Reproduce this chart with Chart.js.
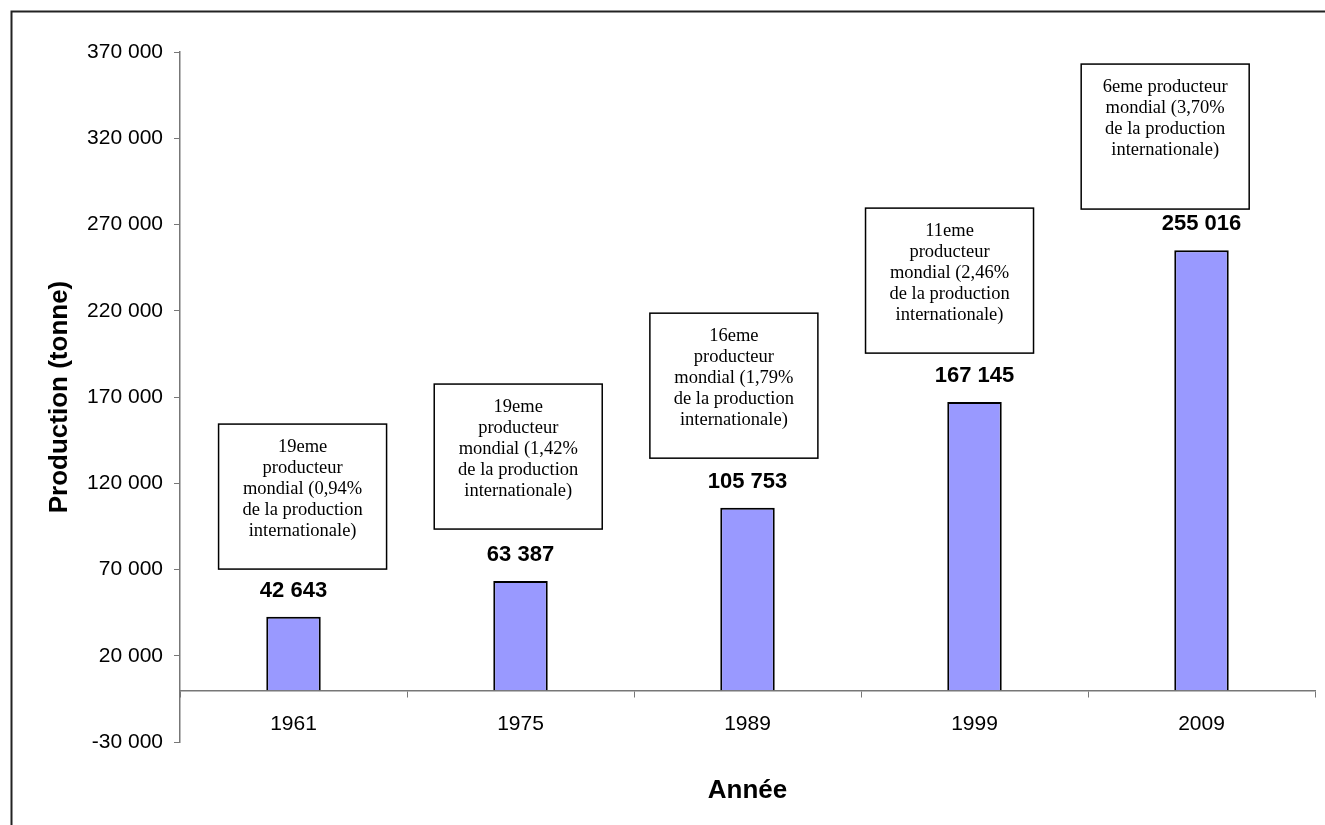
<!DOCTYPE html>
<html>
<head>
<meta charset="utf-8">
<title>Production (tonne)</title>
<script src="https://cdn.jsdelivr.net/npm/chart.js@4/dist/chart.umd.min.js"></script>
<style>
  body { margin: 0; background: #fff; }
  canvas { display: block; }
</style>
</head>
<body>
<canvas id="chart" width="1325" height="825"></canvas>
<script>
// Data
const years = ['1961', '1975', '1989', '1999', '2009'];
const production = [42643, 63387, 105753, 167145, 255016];
const rankNotes = [
  ['19eme', 'producteur', 'mondial (0,94%', 'de la production', 'internationale)'],
  ['19eme', 'producteur', 'mondial (1,42%', 'de la production', 'internationale)'],
  ['16eme', 'producteur', 'mondial (1,79%', 'de la production', 'internationale)'],
  ['11eme', 'producteur', 'mondial (2,46%', 'de la production', 'internationale)'],
  ['6eme producteur', 'mondial (3,70%', 'de la production', 'internationale)']
];
const yMin = -30000;
const yMax = 370000;
const yStep = 50000;

// where the note boxes sit (category index, value of box top)
const noteX = [0.04, 0.99, 1.94, 2.89, 3.84];
const noteTop = [154300, 177500, 218600, 279500, 363000];

const fmt = v => String(v).replace(/\B(?=(\d{3})+(?!\d))/g, ' ');
const sans = '"Liberation Sans", Arial, sans-serif';
const serif = '"Liberation Serif", "Times New Roman", serif';

// outer frame of the picture
const framePlugin = {
  id: 'frame',
  beforeDraw(chart) {
    const ctx = chart.ctx;
    ctx.save();
    ctx.strokeStyle = '#222';
    ctx.lineWidth = 2;
    ctx.strokeRect(11.5, 11.5, 1400, 900);
    ctx.restore();
  }
};

// value labels above bars
const valueLabels = {
  id: 'valueLabels',
  afterDatasetsDraw(chart) {
    const ctx = chart.ctx;
    const meta = chart.getDatasetMeta(0);
    ctx.save();
    ctx.font = 'bold 22px ' + sans;
    ctx.fillStyle = '#000';
    ctx.textAlign = 'center';
    ctx.textBaseline = 'middle';
    meta.data.forEach((bar, i) => {
      ctx.fillText(fmt(production[i]), bar.x, bar.y - 26);
    });
    ctx.restore();
  }
};

// boxed notes
const notes = {
  id: 'notes',
  afterDraw(chart) {
    const ctx = chart.ctx;
    const xs = chart.scales.x, ys = chart.scales.y;
    const catW = (xs.right - xs.left) / years.length;
    ctx.save();
    rankNotes.forEach((lines, i) => {
      const cx = xs.left + catW * (noteX[i] + 0.5);
      const top = ys.getPixelForValue(noteTop[i]);
      const w = 168, h = 145;
      ctx.fillStyle = '#fff';
      ctx.fillRect(cx - w / 2, top, w, h);
      ctx.strokeStyle = '#000';
      ctx.lineWidth = 1.5;
      ctx.strokeRect(cx - w / 2, top, w, h);
      ctx.fillStyle = '#000';
      ctx.font = '18.5px ' + serif;
      ctx.textAlign = 'center';
      ctx.textBaseline = 'middle';
      lines.forEach((t, j) => ctx.fillText(t, cx, top + 23 + j * 21));
    });
    ctx.restore();
  }
};

new Chart(document.getElementById('chart'), {
  type: 'bar',
  data: {
    labels: years,
    datasets: [{
      data: production,
      backgroundColor: '#9999FF',
      borderColor: '#000',
      borderWidth: 2,
      barPercentage: 0.24,
      categoryPercentage: 1
    }]
  },
  options: {
    responsive: false,
    animation: false,
    layout: { padding: { top: 52, bottom: 83, left: 0, right: 10 } },
    plugins: {
      legend: { display: false },
      tooltip: { enabled: false }
    },
    scales: {
      x: {
        position: { y: 0 },
        grid: { offset: true, drawOnChartArea: false, tickLength: 6, color: '#777' },
        border: { color: '#777', width: 1.5 },
        ticks: { color: '#000', padding: 15, font: { family: sans, size: 21 } },
        title: {
          display: true,
          text: 'Année',
          color: '#000',
          font: { family: sans, size: 26, weight: 'bold' },
          padding: { top: 24, bottom: 0 }
        }
      },
      y: {
        min: yMin,
        max: yMax,
        afterFit(scale) { scale.width = 180; },
        ticks: {
          stepSize: yStep,
          color: '#000',
          padding: 11,
          font: { family: sans, size: 21 },
          callback: v => fmt(v)
        },
        grid: { drawOnChartArea: false, tickLength: 6, color: '#777' },
        border: { color: '#777', width: 1.5 },
        title: {
          display: true,
          text: 'Production (tonne)',
          color: '#000',
          font: { family: sans, size: 26, weight: 'bold' },
          padding: { top: 44, bottom: 0 }
        }
      }
    }
  },
  plugins: [framePlugin, valueLabels, notes]
});
</script>
</body>
</html>
